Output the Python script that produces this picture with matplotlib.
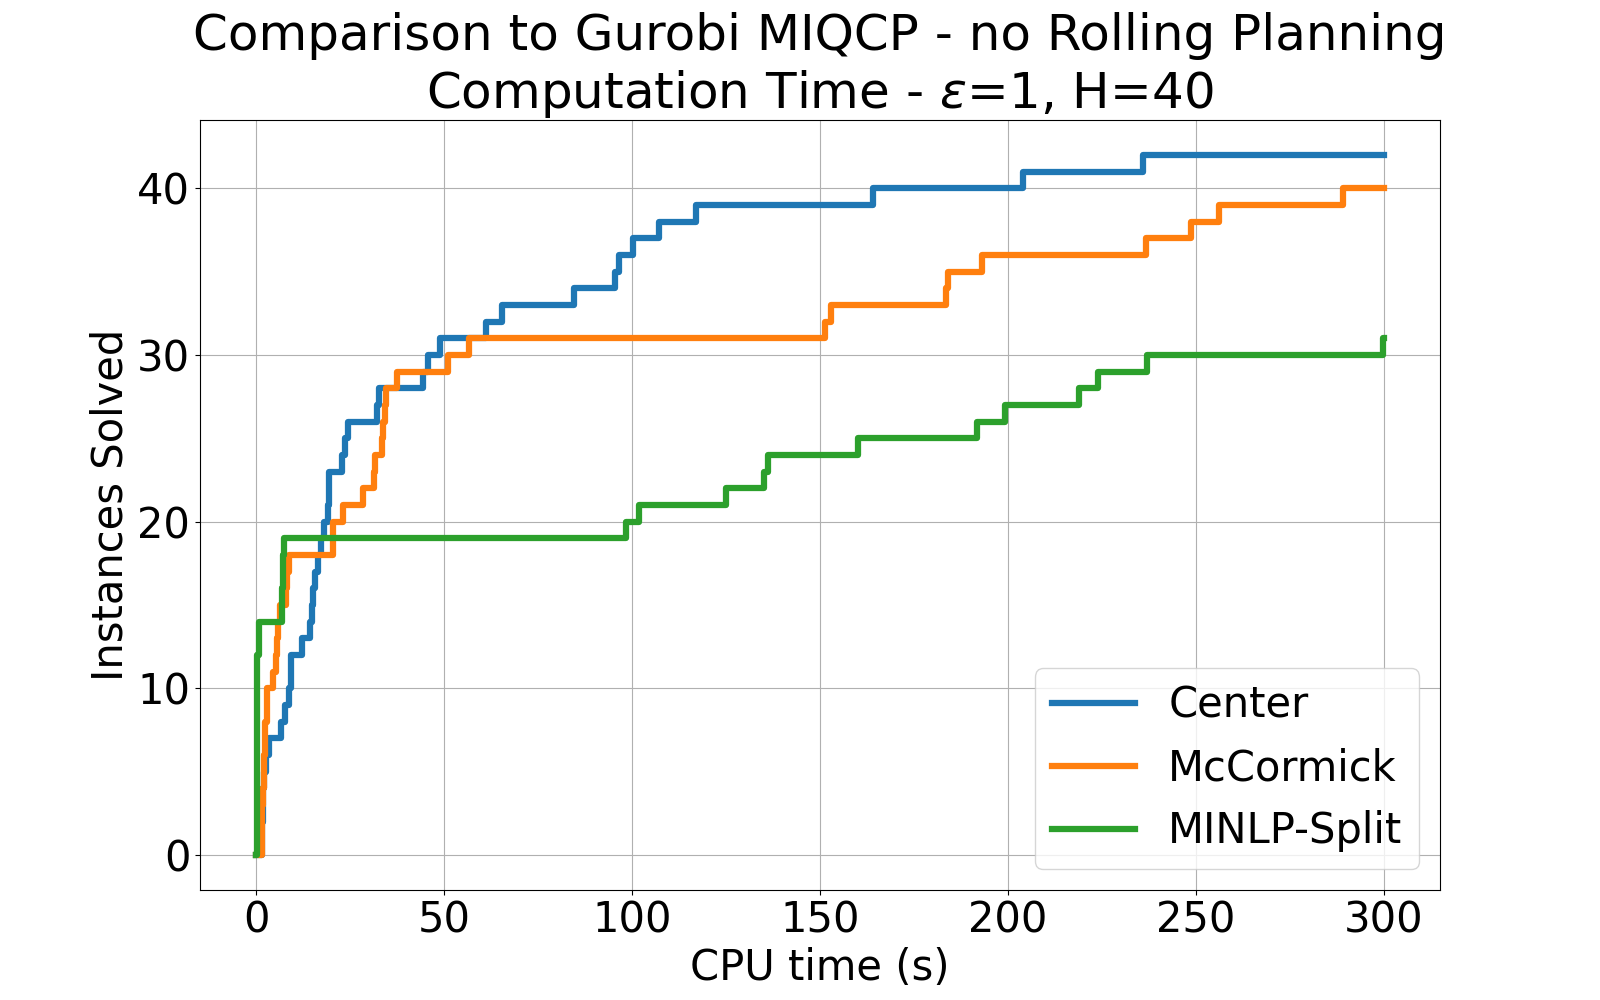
import numpy as np
import matplotlib
matplotlib.use("Agg")
import matplotlib.pyplot as plt

# times (s) at which one more instance was solved, per method
center_times = [1.5, 1.6, 1.7, 1.8, 2.0, 2.6, 3.4, 6.6, 7.5, 8.6, 9.1, 9.3,
                12.1, 14.3, 14.8, 15.2, 15.6, 16.3, 17.2, 18.0, 19.0, 19.2, 19.4,
                22.8, 23.6, 24.4, 32.0, 32.6, 44.3, 45.7, 48.8, 61.2, 65.4,
                84.5, 95.4, 96.5, 100.3, 107.1, 117.1, 164.2, 203.9, 236.0]
mccormick_times = [1.4, 1.5, 1.6, 1.7, 1.9, 2.0, 2.2, 2.4, 2.7, 2.9, 4.4, 5.1,
                   5.5, 5.8, 6.2, 7.9, 8.2, 8.6, 20.3, 20.5, 23.1, 28.4, 31.3,
                   31.5, 33.5, 33.8, 34.2, 34.6, 37.5, 51.0, 56.5, 151.4, 152.9,
                   183.4, 184.0, 193.2, 236.7, 248.8, 256.2, 289.3]
split_times = [0.2, 0.2, 0.2, 0.2, 0.2, 0.2, 0.2, 0.2, 0.2, 0.2, 0.2, 0.3,
               0.6, 0.6, 6.8, 6.9, 7.0, 7.2, 7.4, 98.3, 101.8, 125.1, 135.0,
               136.2, 160.2, 191.7, 199.2, 219.0, 224.0, 237.1, 299.7]
time_limit = 300

labels = ["Center", "McCormick", "MINLP-Split"]

fig, ax = plt.subplots(figsize=(16, 10), dpi=100)

for times, name in zip([center_times, mccormick_times, split_times], labels):
    n = len(times)
    xs = np.concatenate([[0], times, [time_limit]])
    ys = np.concatenate([[0], np.arange(1, n + 1), [n]])
    ax.step(xs, ys, where="post", linewidth=4.5, label=name)

ax.grid(True)
ax.set_title("Comparison to Gurobi MIQCP - no Rolling Planning\n"
             r"Computation Time - $\varepsilon$=1, H=40", fontsize=36)
ax.set_xlabel("CPU time (s)", fontsize=30)
ax.set_ylabel("Instances Solved", fontsize=30)
ax.tick_params(labelsize=30)
ax.legend(loc="lower right", fontsize=30)

plt.savefig("out.png", dpi=100)
